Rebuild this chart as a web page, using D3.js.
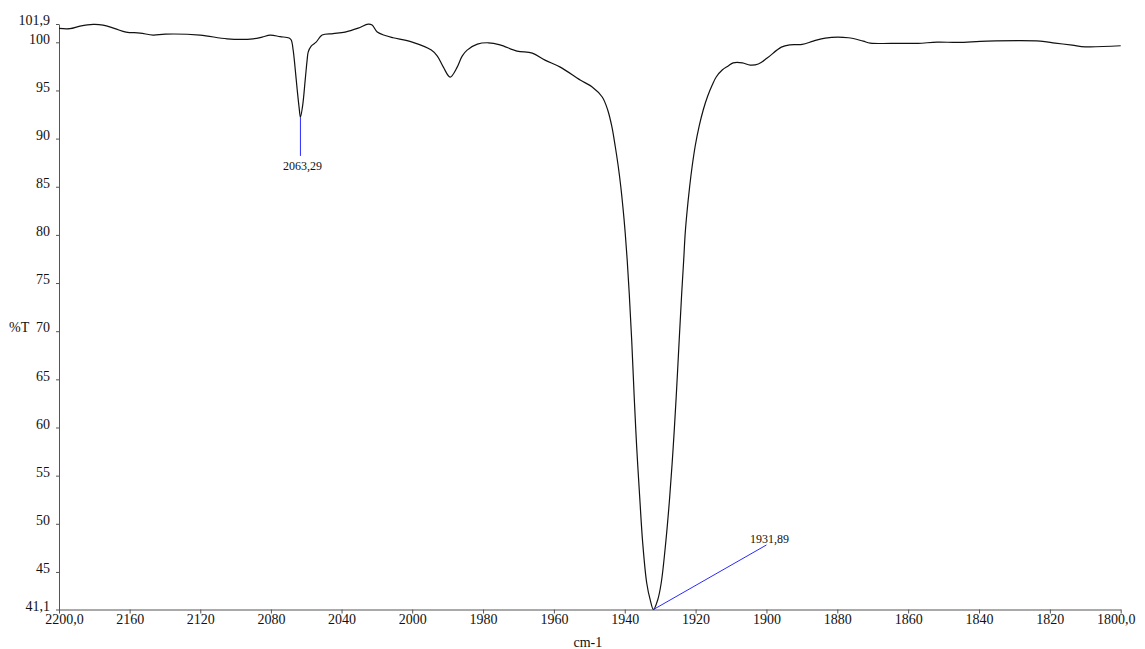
<!DOCTYPE html>
<html>
<head>
<meta charset="utf-8">
<script src="https://cdn.jsdelivr.net/npm/d3@7"></script>
<style>
  html, body { margin: 0; padding: 0; background: #fff; }
  svg { display: block; }
  svg text { font-family: "Liberation Serif", "Times New Roman", Times, "Nimbus Roman", "DejaVu Serif", serif !important; fill: #111; }
</style>
</head>
<body>
<svg id="chart" width="1145" height="649"></svg>
<script>
// IR spectrum, 2200–1800 cm-1: wavenumber (cm-1) and transmittance (%T)
const wavenumber = [
  2200.0, 2193.8, 2188.1, 2180.7, 2175.1, 2168.3, 2162.0, 2154.1, 2146.7, 2139.9,
  2120.1, 2104.8, 2090.1, 2085.0, 2080.4, 2074.8, 2069.7, 2068.5, 2067.4, 2066.3,
  2065.1, 2064.0, 2063.29, 2062.0, 2060.6, 2059.5, 2058.9, 2057.2, 2054.4, 2051.0,
  2044.8, 2038.0, 2030.6, 2024.9, 2022.7, 2019.8, 2015.3, 2010.8, 2000.0, 1994.6,
  1992.9, 1991.2, 1989.3, 1987.3, 1985.9, 1984.5, 1981.6, 1978.5, 1975.2, 1970.4,
  1966.1, 1962.5, 1958.2, 1952.58, 1949.19, 1946.36, 1944.81, 1943.68, 1942.70, 1941.85,
  1941.14, 1940.44, 1939.87, 1939.31, 1938.74, 1938.04, 1937.33, 1936.63, 1935.78, 1934.93,
  1933.80, 1932.81, 1931.89, 1930.70, 1929.71, 1928.44, 1927.31, 1926.32, 1925.48, 1924.63,
  1923.92, 1923.36, 1922.93, 1922.37, 1921.66, 1920.96, 1920.11, 1918.98, 1917.85, 1916.58,
  1915.31, 1914.18, 1912.49, 1910.80, 1909.4, 1906.8, 1904.6, 1902.3, 1899.8, 1895.8,
  1893.3, 1889.9, 1886.8, 1883.4, 1876.9, 1872.7, 1870.7, 1862.2, 1857.2, 1851.8,
  1845.9, 1837.7, 1822.7, 1818.5, 1813.7, 1810.0, 1800.0
];
const transmittance = [
  101.44, 101.42, 101.68, 101.86, 101.79, 101.42, 101.06, 100.96, 100.75, 100.85,
  100.75, 100.36, 100.36, 100.54, 100.75, 100.59, 100.44, 100.23, 99.19, 97.32,
  95.04, 93.17, 92.23, 93.48, 96.07, 98.15, 98.98, 99.61, 100.02, 100.75,
  100.90, 101.06, 101.47, 101.89, 101.79, 101.06, 100.70, 100.47, 100.02, 99.19,
  98.57, 97.42, 96.39, 97.42, 98.57, 99.19, 99.81, 99.95, 99.74, 99.09,
  98.88, 98.15, 97.42, 96.08, 95.36, 94.32, 92.97, 91.31, 89.23, 87.15,
  85.08, 82.59, 80.20, 77.39, 73.97, 69.09, 63.17, 57.98, 52.78, 48.01,
  43.85, 42.09, 41.10, 42.09, 43.85, 48.01, 52.78, 57.98, 63.17, 69.09,
  73.97, 77.39, 80.20, 82.59, 85.08, 87.15, 89.23, 91.31, 92.97, 94.42,
  95.57, 96.40, 97.12, 97.54, 97.87, 97.87, 97.63, 97.74, 98.36, 99.50,
  99.74, 99.78, 100.12, 100.44, 100.47, 100.12, 99.92, 99.89, 99.89, 100.02,
  99.99, 100.12, 100.12, 99.92, 99.71, 99.53, 99.64
];

// Axis ticks and their printed labels
const xTicks = [2200, 2160, 2120, 2080, 2040, 2000, 1980, 1960, 1940, 1920, 1900, 1880, 1860, 1840, 1820, 1800];
const xTickLabels = ["2200,0", "2160", "2120", "2080", "2040", "2000", "1980", "1960", "1940", "1920", "1900", "1880", "1860", "1840", "1820", "1800,0"];
const yTicks = [41.1, 45, 50, 55, 60, 65, 70, 75, 80, 85, 90, 95, 100, 101.9];
const yTickLabels = ["41,1", "45", "50", "55", "60", "65", "70", "75", "80", "85", "90", "95", "100", "101,9"];

// Picked peaks: position, printed label, and where the leader line ends
const peakWavenumbers = [2063.29, 1931.89];
const peakLabels = ["2063,29", "1931,89"];
const peakTransmittance = [92.23, 41.10];
const leaderEndWavenumber = [2063.29, 1900];
const leaderEndTransmittance = [88.2, 47.8];

const svg = d3.select("#chart");
svg.append("rect").attr("width", 1145).attr("height", 649).attr("fill", "#fff");

// The wavenumber axis changes scale at 2000 cm-1
const x = d3.scaleLinear().domain([2200, 2000, 1800]).range([59, 412.2, 1120.7]);
const y = d3.scaleLinear().domain([41.1, 101.9]).range([609.5, 24]);

const axisColor = "#555";
const fontFamily = "'Liberation Serif', 'Times New Roman', Times, serif";

// y axis
const gy = svg.append("g").attr("transform", "translate(59,0)")
  .call(d3.axisLeft(y).tickValues(yTicks).tickSize(3).tickSizeOuter(0).tickPadding(6)
    .tickFormat((d, i) => yTickLabels[i]));
gy.attr("font-family", fontFamily);
gy.select(".domain").attr("stroke", axisColor);
gy.selectAll(".tick line").attr("stroke", axisColor);
gy.selectAll(".tick text")
  .attr("dy", "0.05em")
  .attr("font-size", 14);

// x axis
const gx = svg.append("g").attr("transform", "translate(0,609.5)")
  .call(d3.axisBottom(x).tickValues(xTicks).tickSize(4).tickSizeOuter(0)
    .tickFormat((d, i) => xTickLabels[i]));
gx.attr("font-family", fontFamily);
gx.select(".domain").attr("stroke", axisColor);
gx.selectAll(".tick line").attr("stroke", axisColor);
gx.selectAll(".tick text")
  .attr("y", 14)
  .attr("dy", 0)
  .attr("font-size", 14)
  .attr("dx", (d, i) => i === 0 ? 5 : (i === xTicks.length - 1 ? -5 : 0));

// axis titles
svg.append("text")
  .attr("x", 9).attr("y", y(70) + 0.5)
  .attr("font-size", 14)
  .text("%T");
svg.append("text")
  .attr("x", (x(2200) + x(1800)) / 2 - 2).attr("y", 647)
  .attr("text-anchor", "middle")
  .attr("font-size", 14)
  .text("cm-1");

// spectrum
const points = wavenumber.map((w, i) => [w, transmittance[i]]);
const line = d3.line()
  .x(d => x(d[0]))
  .y(d => y(d[1]))
  .curve(d3.curveCatmullRom.alpha(0.5));
svg.append("path")
  .datum(points)
  .attr("fill", "none")
  .attr("stroke", "#111")
  .attr("stroke-width", 1.2)
  .attr("stroke-linejoin", "round")
  .attr("d", line);

// peak leader lines and labels
peakWavenumbers.forEach((w, i) => {
  svg.append("line")
    .attr("x1", x(w)).attr("y1", y(peakTransmittance[i]))
    .attr("x2", x(leaderEndWavenumber[i])).attr("y2", y(leaderEndTransmittance[i]))
    .attr("stroke", "#2a2aff")
    .attr("stroke-width", 1);
});
// label below the vertical leader
svg.append("text")
  .attr("x", x(leaderEndWavenumber[0]) + 2)
  .attr("y", y(leaderEndTransmittance[0]) + 14)
  .attr("text-anchor", "middle")
  .attr("font-size", 12)
  .text(peakLabels[0]);
// label above the slanted leader end
svg.append("text")
  .attr("x", x(leaderEndWavenumber[1]) + 3)
  .attr("y", y(leaderEndTransmittance[1]) - 2)
  .attr("text-anchor", "middle")
  .attr("font-size", 12)
  .text(peakLabels[1]);
</script>
</body>
</html>
